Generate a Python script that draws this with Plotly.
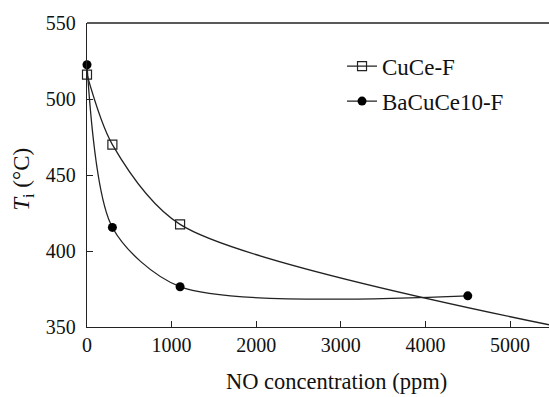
import plotly.graph_objects as go

# Data
x_cuce = [0, 300, 1100, 5500]
y_cuce = [516, 470, 417.5, 351]
x_ba = [0, 300, 1100, 4500]
y_ba = [522.5, 415.5, 376.5, 370.5]

series_names = ["CuCe-F", "BaCuCe10-F"]
x_ticks = [0, 1000, 2000, 3000, 4000, 5000]
y_ticks = [350, 400, 450, 500, 550]

FONT = "Liberation Serif, Times New Roman, serif"

fig = go.Figure()
fig.add_trace(go.Scatter(
    x=x_cuce, y=y_cuce, name=series_names[0], mode="lines+markers",
    line=dict(color="#222222", width=1.3, shape="spline", smoothing=0.8),
    marker=dict(symbol="square-open", size=9, color="#222222", line=dict(width=1.2)),
    cliponaxis=False, legend="legend",
))
fig.add_trace(go.Scatter(
    x=x_ba, y=y_ba, name=series_names[1], mode="lines+markers",
    line=dict(color="#222222", width=1.3, shape="spline", smoothing=0.8),
    marker=dict(symbol="circle", size=9, color="#000000"),
    cliponaxis=False, legend="legend2",
))

leg_common = dict(xanchor="left", yanchor="middle", bgcolor="rgba(0,0,0,0)",
                  font=dict(size=23), itemwidth=30)

fig.update_layout(
    width=549, height=397,
    margin=dict(l=87, r=0, t=23, b=70),
    paper_bgcolor="white", plot_bgcolor="white",
    font=dict(family=FONT, size=20, color="#111111"),
    showlegend=True,
    legend=dict(x=0.552, y=0.858, **leg_common),
    legend2=dict(x=0.552, y=0.743, **leg_common),
    xaxis=dict(range=[0, 5460], tickvals=x_ticks, ticks="inside", ticklen=6,
               tickcolor="#222", showline=True, linecolor="#222", linewidth=1.3,
               mirror=False, showgrid=False, zeroline=False,
               tickfont=dict(size=20)),
    yaxis=dict(range=[350, 550], tickvals=y_ticks, ticks="inside", ticklen=6,
               tickcolor="#222", showline=True, linecolor="#222", linewidth=1.3,
               showgrid=False, zeroline=False, ticklabelstandoff=6,
               tickfont=dict(size=20)),
    shapes=[dict(type="line", xref="paper", yref="paper", x0=0, x1=1, y0=1, y1=1,
                 line=dict(color="#222", width=1.3))],
    annotations=[
        dict(text="<i>T</i><sub>i</sub> (°C)", xref="paper", yref="paper",
             x=-0.139, y=0.487, textangle=-90, showarrow=False,
             xanchor="center", yanchor="middle", font=dict(size=23, color="#111111")),
        dict(text="NO concentration (ppm)", xref="paper", yref="paper",
             x=(336.5 - 87) / 462, y=-(381 - 327) / 304, showarrow=False,
             xanchor="center", yanchor="middle", font=dict(size=22.5, color="#111111")),
    ],
)

fig.write_html("out.html")
